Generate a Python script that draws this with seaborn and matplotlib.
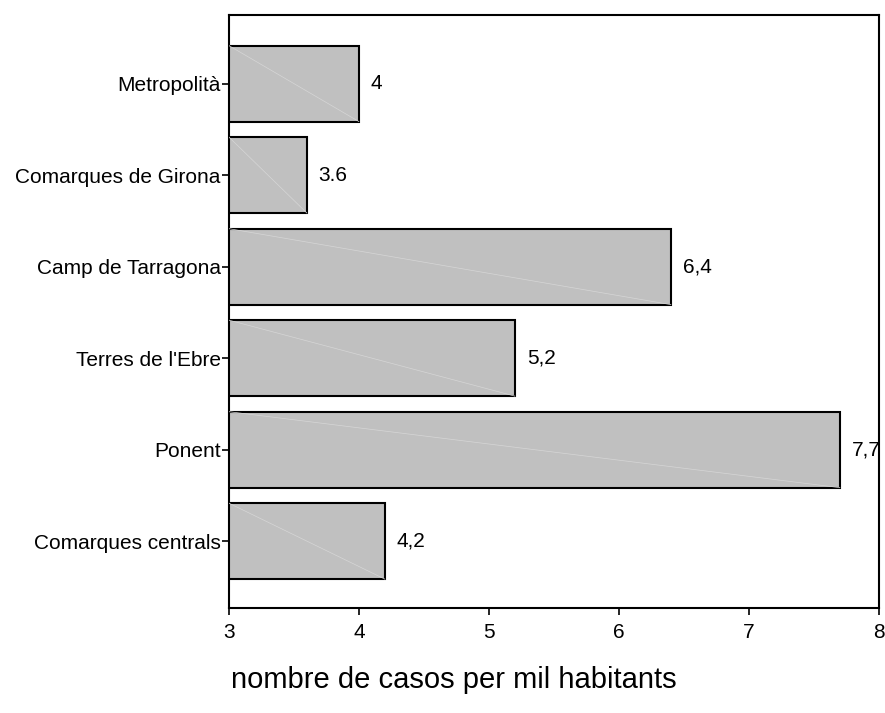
import matplotlib
matplotlib.use('Agg')
import matplotlib.pyplot as plt
import seaborn as sns
import pandas as pd

# Data
regions = ['Metropolità', 'Comarques de Girona', 'Camp de Tarragona',
           "Terres de l'Ebre", 'Ponent', 'Comarques centrals']
values = [4.0, 3.6, 6.4, 5.2, 7.7, 4.2]
value_labels = ['4', '3.6', '6,4', '5,2', '7,7', '4,2']

df = pd.DataFrame({'region': regions, 'value': values})

sns.set_style('white')
plt.rcParams['font.family'] = ['Liberation Sans', 'DejaVu Sans']
plt.rcParams['text.color'] = 'black'

fig = plt.figure(figsize=(8.85, 7.13), dpi=100)
ax = fig.add_axes([229 / 885, 1 - 608 / 713, 650 / 885, 593 / 713])

sns.barplot(data=df, x='value', y='region', orient='h', color='#c0c0c0',
            saturation=1, edgecolor='black', linewidth=1.5, width=0.83, ax=ax)

# faint diagonal lines inside bars, as in the original rendering
for i, p in enumerate(ax.patches):
    x1 = p.get_x() + p.get_width()
    y0, y1 = p.get_y(), p.get_y() + p.get_height()
    ax.plot([3, x1], [y0, y1], color='#d6d6d6', lw=0.5, zorder=3)
    ax.text(x1 + 0.09, (y0 + y1) / 2, value_labels[i], va='center', ha='left',
            fontsize=15, color='black', clip_on=False)

ax.set_xlim(3, 8)
ax.set_ylim(5.73, -0.75)
ax.set_xticks([3, 4, 5, 6, 7, 8])
ax.set_xlabel('')
ax.set_ylabel('')

for s in ax.spines.values():
    s.set_visible(True)
    s.set_color('black')
    s.set_linewidth(1.5)

ax.tick_params(axis='both', which='both', direction='out', length=5, width=1.2,
               colors='black', labelcolor='black', labelsize=15,
               bottom=True, left=True)
ax.tick_params(axis='y', pad=1)
ax.tick_params(axis='x', pad=6)

fig.text(454 / 885, 1 - 680 / 713, 'nombre de casos per mil habitants',
         ha='center', va='center', fontsize=21, color='black')

fig.savefig('out.png', dpi=100, facecolor='white')
